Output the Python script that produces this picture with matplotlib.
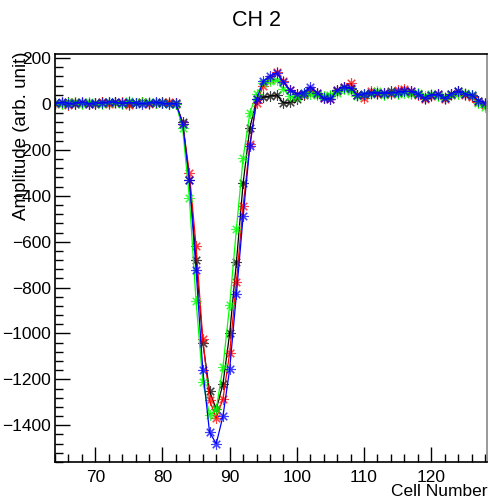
import numpy as np
import matplotlib
matplotlib.use("Agg")
import matplotlib.pyplot as plt
from matplotlib.ticker import MultipleLocator

plt.rcParams['font.family'] = ['Liberation Sans', 'DejaVu Sans']

# cell numbers 64..128
cells = np.arange(64, 129)

# amplitudes per channel trace
black = [5, 3, 8, 2, 6, 4, 1, 7, 3, 9, 5, 2, 6, 8, 4, 3, 7, 5, 2,
         -80, -330, -680, -1040, -1250, -1330, -1220, -1000, -690, -345, -105,
         20, 30, 35, 40, 5, 8, 20, 40, 55, 45, 30, 35, 55, 70, 65, 40, 40,
         50, 50, 45, 55, 50, 55, 50, 45, 25, 40, 40, 25, 45, 55, 45, 35, 15, 0]
red = [2, 6, -4, 8, 3, -2, 5, 9, 1, 4, 7, -3, 5, 10, 2, 6, 3, 8, 4,
       -85, -300, -620, -1025, -1290, -1370, -1285, -1085, -775, -445, -175,
       5, 80, 110, 140, 100, 60, 45, 45, 60, 50, 25, 20, 60, 75, 90, 40, 25,
       55, 45, 50, 45, 60, 65, 55, 40, 20, 35, 45, 20, 40, 50, 40, 30, 10, -5]
green = [6, -2, 4, 10, 1, 7, 3, -1, 8, 5, 2, 12, 4, 7, 11, 3, 6, 2, 0,
         -105, -410, -860, -1210, -1355, -1330, -1145, -875, -545, -235, -40,
         45, 90, 100, 105, 65, 35, 30, 50, 45, 40, 35, 40, 50, 65, 55, 35, 45,
         45, 55, 40, 50, 45, 50, 45, 50, 35, 45, 35, 30, 40, 45, 50, 40, 5, -15]
blue = [3, 7, 2, 5, 9, 1, 6, 4, 10, 8, 3, 7, 5, 2, 6, 9, 4, 1, 3,
        -85, -330, -725, -1160, -1430, -1480, -1360, -1155, -830, -490, -185,
        20, 100, 122, 135, 95, 60, 45, 50, 75, 50, 25, 22, 60, 75, 70, 40, 45,
        50, 50, 48, 50, 52, 55, 55, 45, 25, 40, 42, 25, 45, 55, 45, 40, 15, 5]

traces = [(black, '#000000'), (red, '#ff0000'), (green, '#00ff00'), (blue, '#0000ff')]

fig = plt.figure(figsize=(4.9, 5.0), dpi=100)
ax = fig.add_axes([55 / 490, 38 / 500, 432 / 490, 408 / 500])

for vals, col in traces:
    ax.plot(cells, vals, color=col, lw=0.9)
    # ROOT-style star markers, drawn a bit faint
    ax.plot(cells, vals, ls='none', marker=(8, 2, 0), ms=7.5,
            mew=0.8, mec=col, alpha=0.75)

ax.set_xlim(64, 128.3)
ax.set_ylim(-1560, 218)

ax.xaxis.set_major_locator(MultipleLocator(10))
ax.xaxis.set_minor_locator(MultipleLocator(2))
ax.yaxis.set_major_locator(MultipleLocator(200))
ax.yaxis.set_minor_locator(MultipleLocator(40))
ax.tick_params(which='major', direction='in', length=11, width=1,
               labelsize=12.5, top=False, right=False, pad=3)
ax.tick_params(which='minor', direction='in', length=5.5, width=1,
               top=False, right=False)
ax.tick_params(axis='x', pad=6)
for s in ax.spines.values():
    s.set_linewidth(1.2)
ax.spines['right'].set_color('#888888')

fig.text(256 / 490, 1 - 20 / 500, 'CH 2', ha='center', va='center', fontsize=15.5)
fig.text(487 / 490, 1 - 492 / 500, 'Cell Number', ha='right', va='center',
         fontsize=12.5)
fig.text(21 / 490, 1 - 52 / 500, 'Amplitude (arb. unit)', ha='center',
         va='top', rotation=90, fontsize=13.5)

fig.savefig('out.png', dpi=100)
